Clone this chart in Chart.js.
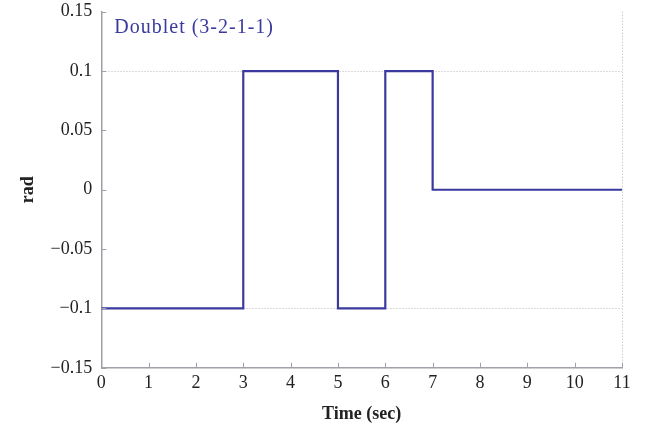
<!DOCTYPE html>
<html lang="en">
  <head>
    <meta charset="UTF-8" />
    <title>Doublet (3-2-1-1)</title>
  </head>
  <style>
    * {
      margin: 0;
      padding: 0;
    }
    body {
      background: white;
    }
    .chartBox {
      width: 649px;
      height: 432px;
    }
  </style>
  <body>
    <div class="chartBox">
      <canvas id="myChart"></canvas>
    </div>

    <script src="https://cdn.jsdelivr.net/npm/chart.js"></script>

    <script>
      // data block
      const timeSec = [0, 3, 5, 6, 7, 11];
      const inputRad = [-0.1, 0.1, -0.1, 0.1, 0, 0];
      const seriesLabel = "Doublet (3-2-1-1)";

      const lineColor = "#3a3a9e";
      const axisColor = "#a0a0a8";
      const serif = "'Liberation Serif', 'DejaVu Serif', serif";

      const fmt = (v) => {
        const r = Math.round(v * 100) / 100;
        return String(r).replace("-", "\u2212");
      };

      // inward tick marks + label inside the plot
      const innerTicks = {
        id: "innerTicks",
        afterDraw(chart) {
          const { ctx, chartArea, scales } = chart;
          ctx.save();
          ctx.strokeStyle = axisColor;
          ctx.lineWidth = 1;
          ctx.beginPath();
          scales.x.ticks.forEach((t) => {
            const px = Math.round(scales.x.getPixelForValue(t.value)) + 0.5;
            ctx.moveTo(px, chartArea.bottom);
            ctx.lineTo(px, chartArea.bottom - 5);
          });
          scales.y.ticks.forEach((t) => {
            const py = Math.round(scales.y.getPixelForValue(t.value)) + 0.5;
            ctx.moveTo(chartArea.left, py);
            ctx.lineTo(chartArea.left + 5, py);
          });
          ctx.stroke();

          ctx.fillStyle = lineColor;
          ctx.font = "20px " + serif;
          ctx.letterSpacing = "1px";
          ctx.textAlign = "left";
          ctx.textBaseline = "middle";
          ctx.fillText(seriesLabel, chartArea.left + 13, chartArea.top + 16);
          ctx.restore();
        }
      };

      const config = {
        type: "line",
        data: {
          datasets: [
            {
              label: seriesLabel,
              data: timeSec.map((t, i) => ({ x: t, y: inputRad[i] })),
              stepped: "before",
              borderColor: lineColor,
              borderWidth: 2.2,
              pointRadius: 0,
              fill: false
            }
          ]
        },
        options: {
          responsive: true,
          maintainAspectRatio: false,
          animation: false,
          layout: {
            padding: { top: 0, right: 27, left: 4, bottom: 3 }
          },
          plugins: {
            legend: { display: false },
            tooltip: { enabled: false }
          },
          scales: {
            x: {
              type: "linear",
              min: 0,
              max: 11,
              ticks: {
                stepSize: 1,
                color: "#222",
                font: { family: serif, size: 18 },
                padding: 5,
                maxRotation: 0
              },
              grid: {
                drawTicks: false,
                color: (c) => (c.tick && c.tick.value === 11 ? "#b8b8b8" : "transparent"),
                lineWidth: 1
              },
              border: { color: axisColor, width: 1.5, dash: [1, 2] },
              title: {
                display: true,
                text: "Time (sec)",
                color: "#222",
                font: { family: serif, size: 18, weight: "bold" },
                padding: { top: 4 }
              }
            },
            y: {
              min: -0.15,
              max: 0.15,
              ticks: {
                stepSize: 0.05,
                color: "#222",
                font: { family: serif, size: 18, lineHeight: 0.3 },
                padding: 9,
                callback: (v) => fmt(v)
              },
              grid: {
                drawTicks: false,
                color: (c) =>
                  c.tick && Math.abs(Math.abs(c.tick.value) - 0.1) < 1e-6 ? "#b8b8b8" : "transparent",
                lineWidth: 1
              },
              border: { color: axisColor, width: 1.5, dash: [1, 2] },
              title: {
                display: true,
                text: "rad",
                color: "#222",
                font: { family: serif, size: 18, weight: "bold" },
                padding: { top: 14, bottom: 2 }
              }
            }
          }
        },
        plugins: [innerTicks]
      };

      // init render block
      const myChart = new Chart(document.getElementById("myChart"), config);
    </script>
  </body>
</html>
